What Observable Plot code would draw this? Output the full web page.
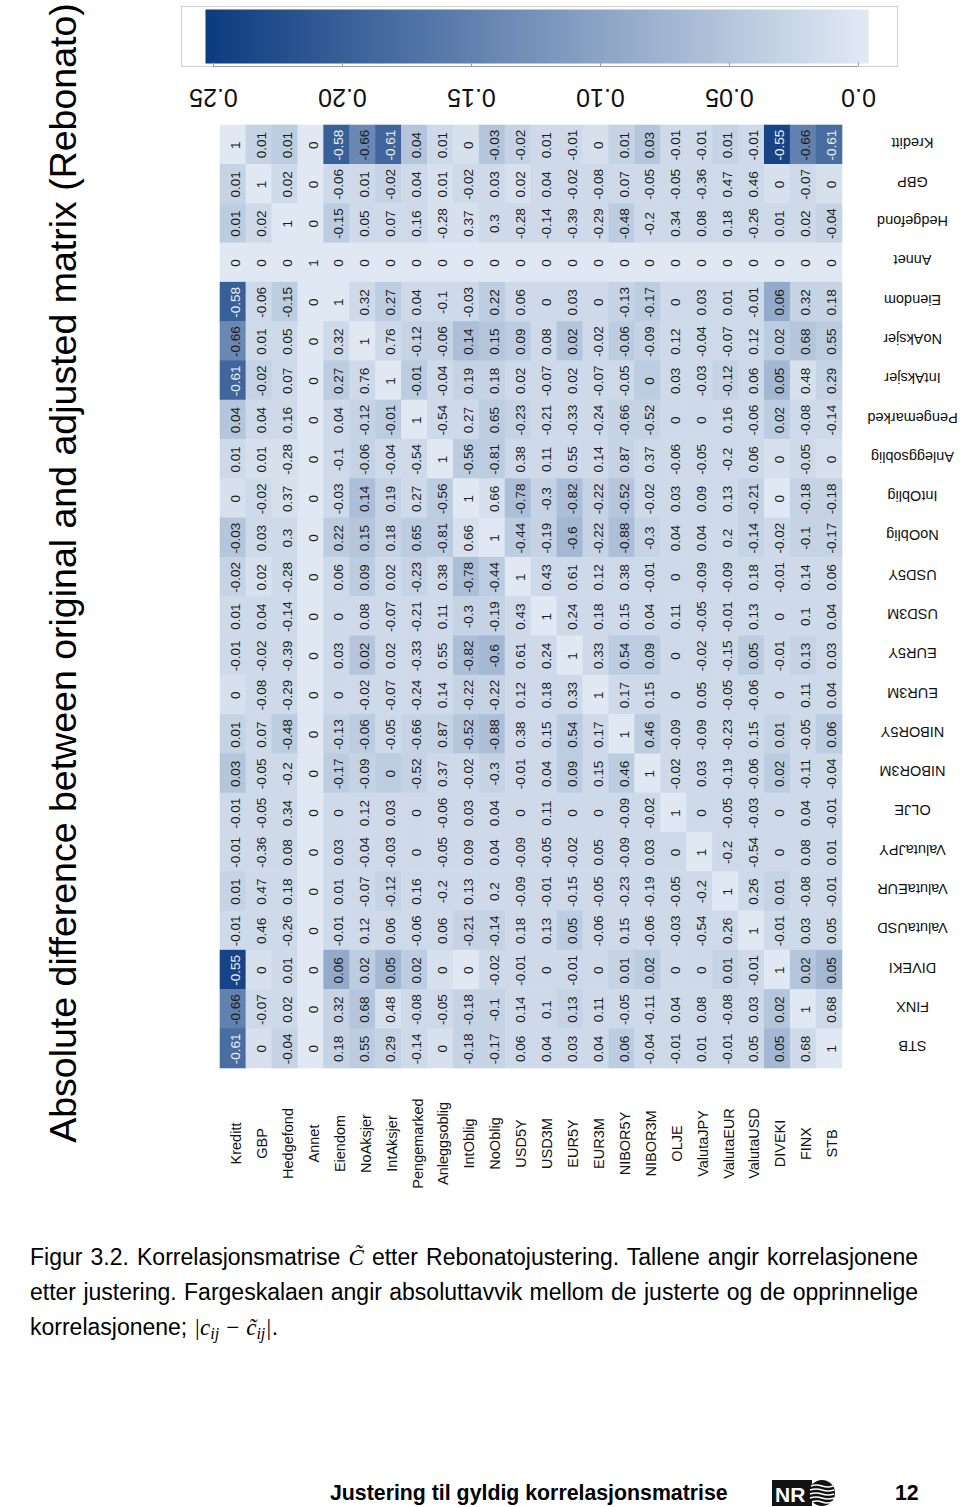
<!DOCTYPE html>
<html>
<head>
<meta charset="utf-8">
<script src="https://cdn.jsdelivr.net/npm/d3@7"></script>
<script src="https://cdn.jsdelivr.net/npm/@observablehq/plot@0.6"></script>
<style>
  body { margin: 0; background: #fff; }
  #page { position: relative; width: 960px; height: 1507px; overflow: hidden;
          font-family: "Liberation Sans", Arial, Helvetica, sans-serif; color: #000; background: #fff; }
  .abs { position: absolute; }
  #title { left: 64px; top: 573px; transform: translate(-50%, -50%) rotate(-90deg);
           font-size: 37.5px; line-height: 1; white-space: nowrap; }
  #caption { left: 30px; top: 1240px; width: 888px; font-size: 23px; line-height: 35px; }
  #caption .ln { white-space: nowrap; }
  #caption .j { text-align: justify; text-align-last: justify; }
  .m { font-family: "Liberation Serif", "DejaVu Serif", serif; font-style: italic; }
  .m sub { font-size: 0.7em; vertical-align: -0.25em; }
  #footer { left: 330px; top: 1479px; font-size: 21.3px; font-weight: bold; line-height: 28px; white-space: nowrap; }
  #pagenum { left: 895px; top: 1479px; font-size: 21.3px; font-weight: bold; line-height: 28px; }
</style>
</head>
<body>
<div id="page">
  <div id="bar" class="abs" style="left:0;top:0"></div>
  <div id="heat" class="abs" style="left:0;top:120px"></div>
  <div id="title" class="abs">Absolute difference between original and adjusted matrix (Rebonato)</div>
  <div id="caption" class="abs">
    <div class="ln j">Figur 3.2. Korrelasjonsmatrise <span class="m">C&#771;</span> etter Rebonatojustering. Tallene angir korrelasjonene</div>
    <div class="ln j">etter justering. Fargeskalaen angir absoluttavvik mellom de justerte og de opprinnelige</div>
    <div class="ln">korrelasjonene; <span class="m">|c<sub>ij</sub> &#8722; c&#771;<sub>ij</sub>|</span>.</div>
  </div>
  <div id="footer" class="abs">Justering til gyldig korrelasjonsmatrise</div>
  <svg class="abs" style="left:772px;top:1479px" width="64" height="28" viewBox="0 0 64 28">
    <rect x="0" y="1" width="40" height="26" fill="#111"/>
    <text x="3" y="22.5" font-family="Liberation Sans, Arial, sans-serif" font-weight="bold" font-size="21" fill="#fff">NR</text>
    <circle cx="50" cy="14" r="13" fill="#111"/>
    <g stroke="#fff" stroke-width="1.6" fill="none">
      <path d="M39 7 q5 -2 11 0 t11 0"/>
      <path d="M38 11 q6 -2 12 0 t12 0"/>
      <path d="M38 15 q6 -2 12 0 t12 0"/>
      <path d="M38 19 q6 -2 12 0 t12 0"/>
      <path d="M40 23 q5 -2 10 0 t10 0"/>
    </g>
  </svg>
  <div id="pagenum" class="abs">12</div>
</div>
<script>
// ---- data ----
const names = ["Kreditt","GBP","Hedgefond","Annet","Eiendom","NoAksjer","IntAksjer","Pengemarked",
  "Anleggsoblig","IntOblig","NoOblig","USD5Y","USD3M","EUR5Y","EUR3M","NIBOR5Y","NIBOR3M","OLJE",
  "ValutaJPY","ValutaEUR","ValutaUSD","DIVEKI","FINX","STB"];

// adjusted correlations (rows top→bottom, columns left→right)
const values = [
  [1,0.01,0.01,0,-0.58,-0.66,-0.61,0.04,0.01,0,-0.03,-0.02,0.01,-0.01,0,0.01,0.03,-0.01,-0.01,0.01,-0.01,-0.55,-0.66,-0.61],
  [0.01,1,0.02,0,-0.06,0.01,-0.02,0.04,0.01,-0.02,0.03,0.02,0.04,-0.02,-0.08,0.07,-0.05,-0.05,-0.36,0.47,0.46,0,-0.07,0],
  [0.01,0.02,1,0,-0.15,0.05,0.07,0.16,-0.28,0.37,0.3,-0.28,-0.14,-0.39,-0.29,-0.48,-0.2,0.34,0.08,0.18,-0.26,0.01,0.02,-0.04],
  [0,0,0,1,0,0,0,0,0,0,0,0,0,0,0,0,0,0,0,0,0,0,0,0],
  [-0.58,-0.06,-0.15,0,1,0.32,0.27,0.04,-0.1,-0.03,0.22,0.06,0,0.03,0,-0.13,-0.17,0,0.03,0.01,-0.01,0.06,0.32,0.18],
  [-0.66,0.01,0.05,0,0.32,1,0.76,-0.12,-0.06,0.14,0.15,0.09,0.08,0.02,-0.02,-0.06,-0.09,0.12,-0.04,-0.07,0.12,0.02,0.68,0.55],
  [-0.61,-0.02,0.07,0,0.27,0.76,1,-0.01,-0.04,0.19,0.18,0.02,-0.07,0.02,-0.07,-0.05,0,0.03,-0.03,-0.12,0.06,0.05,0.48,0.29],
  [0.04,0.04,0.16,0,0.04,-0.12,-0.01,1,-0.54,0.27,0.65,-0.23,-0.21,-0.33,-0.24,-0.66,-0.52,0,0,0.16,-0.06,0.02,-0.08,-0.14],
  [0.01,0.01,-0.28,0,-0.1,-0.06,-0.04,-0.54,1,-0.56,-0.81,0.38,0.11,0.55,0.14,0.87,0.37,-0.06,-0.05,-0.2,0.06,0,-0.05,0],
  [0,-0.02,0.37,0,-0.03,0.14,0.19,0.27,-0.56,1,0.66,-0.78,-0.3,-0.82,-0.22,-0.52,-0.02,0.03,0.09,0.13,-0.21,0,-0.18,-0.18],
  [-0.03,0.03,0.3,0,0.22,0.15,0.18,0.65,-0.81,0.66,1,-0.44,-0.19,-0.6,-0.22,-0.88,-0.3,0.04,0.04,0.2,-0.14,-0.02,-0.1,-0.17],
  [-0.02,0.02,-0.28,0,0.06,0.09,0.02,-0.23,0.38,-0.78,-0.44,1,0.43,0.61,0.12,0.38,-0.01,0,-0.09,-0.09,0.18,-0.01,0.14,0.06],
  [0.01,0.04,-0.14,0,0,0.08,-0.07,-0.21,0.11,-0.3,-0.19,0.43,1,0.24,0.18,0.15,0.04,0.11,-0.05,-0.01,0.13,0,0.1,0.04],
  [-0.01,-0.02,-0.39,0,0.03,0.02,0.02,-0.33,0.55,-0.82,-0.6,0.61,0.24,1,0.33,0.54,0.09,0,-0.02,-0.15,0.05,-0.01,0.13,0.03],
  [0,-0.08,-0.29,0,0,-0.02,-0.07,-0.24,0.14,-0.22,-0.22,0.12,0.18,0.33,1,0.17,0.15,0,0.05,-0.05,-0.06,0,0.11,0.04],
  [0.01,0.07,-0.48,0,-0.13,-0.06,-0.05,-0.66,0.87,-0.52,-0.88,0.38,0.15,0.54,0.17,1,0.46,-0.09,-0.09,-0.23,0.15,0.01,-0.05,0.06],
  [0.03,-0.05,-0.2,0,-0.17,-0.09,0,-0.52,0.37,-0.02,-0.3,-0.01,0.04,0.09,0.15,0.46,1,-0.02,0.03,-0.19,-0.06,0.02,-0.11,-0.04],
  [-0.01,-0.05,0.34,0,0,0.12,0.03,0,-0.06,0.03,0.04,0,0.11,0,0,-0.09,-0.02,1,0,-0.05,-0.03,0,0.04,-0.01],
  [-0.01,-0.36,0.08,0,0.03,-0.04,-0.03,0,-0.05,0.09,0.04,-0.09,-0.05,-0.02,0.05,-0.09,0.03,0,1,-0.2,-0.54,0,0.08,0.01],
  [0.01,0.47,0.18,0,0.01,-0.07,-0.12,0.16,-0.2,0.13,0.2,-0.09,-0.01,-0.15,-0.05,-0.23,-0.19,-0.05,-0.2,1,0.26,0.01,-0.08,-0.01],
  [-0.01,0.46,-0.26,0,-0.01,0.12,0.06,-0.06,0.06,-0.21,-0.14,0.18,0.13,0.05,-0.06,0.15,-0.06,-0.03,-0.54,0.26,1,-0.01,0.03,0.05],
  [-0.55,0,0.01,0,0.06,0.02,0.05,0.02,0,0,-0.02,-0.01,0,-0.01,0,0.01,0.02,0,0,0.01,-0.01,1,0.02,0.05],
  [-0.66,-0.07,0.02,0,0.32,0.68,0.48,-0.08,-0.05,-0.18,-0.1,0.14,0.1,0.13,0.11,-0.05,-0.11,0.04,0.08,-0.08,0.03,0.02,1,0.68],
  [-0.61,0,-0.04,0,0.18,0.55,0.29,-0.14,0,-0.18,-0.17,0.06,0.04,0.03,0.04,0.06,-0.04,-0.01,0.01,-0.01,0.05,0.05,0.68,1]
];

// absolute difference |c - c~| (colour)
const diffs = [
  [0,.03,.04,0,.20,.14,.19,.05,.02,.01,.05,.03,.02,.02,.01,.03,.05,.02,.02,.03,.02,.24,.15,.18],
  [.03,0,.02,0,.02,.02,.03,.02,.01,.02,.02,.01,.02,.02,.02,.02,.02,.02,.02,.02,.02,.01,.02,.01],
  [.04,.02,0,0,.04,.02,.02,.02,.01,.01,.02,.02,.02,.02,.02,.04,.02,.02,.02,.02,.02,.02,.02,.03],
  [0,0,0,0,0,0,0,0,0,0,0,0,0,0,0,0,0,0,0,0,0,0,0,0],
  [.20,.02,.04,0,0,.02,.04,.02,.02,.02,.04,.02,.02,.02,.02,.03,.04,.02,.02,.02,.02,.09,.03,.03],
  [.14,.02,.02,0,.02,0,.02,.03,.03,.06,.05,.04,.02,.05,.02,.04,.03,.02,.02,.02,.02,.04,.05,.04],
  [.19,.03,.02,0,.04,.02,0,.04,.02,.03,.03,.02,.02,.02,.02,.02,.04,.02,.02,.03,.02,.07,.01,.03],
  [.05,.02,.02,0,.02,.03,.04,0,.02,.02,.04,.03,.02,.02,.02,.03,.03,.02,.02,.02,.02,.04,.02,.02],
  [.02,.01,.01,0,.02,.03,.02,.02,0,.04,.04,.02,.02,.02,.02,.03,.02,.02,.02,.02,.02,.01,.02,.01],
  [.01,.02,.01,0,.02,.06,.03,.02,.04,0,.01,.06,.03,.06,.03,.05,.02,.02,.02,.02,.03,0,.03,.03],
  [.05,.02,.02,0,.04,.05,.03,.04,.04,.01,0,.04,.03,.07,.03,.06,.03,.02,.02,.02,.03,.02,.03,.03],
  [.03,.01,.02,0,.02,.04,.02,.03,.02,.06,.04,0,.02,.02,.02,.02,.02,.02,.02,.02,.02,.02,.02,.02],
  [.02,.02,.02,0,.02,.02,.02,.02,.02,.03,.03,.02,0,.02,.02,.02,.02,.02,.02,.02,.02,.02,.02,.02],
  [.02,.02,.02,0,.02,.05,.02,.02,.02,.06,.07,.02,.02,0,.02,.04,.04,.02,.02,.02,.04,.02,.03,.02],
  [.01,.02,.02,0,.02,.02,.02,.02,.02,.03,.03,.02,.02,.02,0,.02,.02,.02,.02,.02,.02,.02,.02,.02],
  [.03,.02,.04,0,.03,.04,.02,.03,.03,.05,.06,.02,.02,.04,.02,0,.04,.02,.02,.02,.02,.03,.02,.04],
  [.05,.02,.02,0,.04,.03,.04,.03,.02,.02,.03,.02,.02,.04,.02,.04,0,.02,.02,.02,.02,.04,.02,.02],
  [.02,.02,.02,0,.02,.02,.02,.02,.02,.02,.02,.02,.02,.02,.02,.02,.02,0,.02,.02,.02,.02,.02,.02],
  [.02,.02,.02,0,.02,.02,.02,.02,.02,.02,.02,.02,.02,.02,.02,.02,.02,.02,0,.02,.02,.02,.02,.02],
  [.03,.02,.02,0,.02,.02,.03,.02,.02,.02,.02,.02,.02,.02,.02,.02,.02,.02,.02,0,.02,.03,.02,.02],
  [.02,.02,.02,0,.02,.02,.02,.02,.02,.03,.03,.02,.02,.04,.02,.02,.02,.02,.02,.02,0,.02,.02,.02],
  [.24,.01,.02,0,.09,.04,.07,.04,.01,0,.02,.02,.02,.02,.02,.03,.04,.02,.02,.03,.02,0,.05,.07],
  [.15,.02,.02,0,.03,.05,.01,.02,.02,.03,.03,.02,.02,.03,.02,.02,.02,.02,.02,.02,.02,.05,0,.02],
  [.18,.01,.03,0,.03,.04,.03,.02,.01,.03,.03,.02,.02,.02,.02,.04,.02,.02,.02,.02,.02,.07,.02,0]
];

const colorTicks = [0, 0.05, 0.10, 0.15, 0.20, 0.25];
const colorTickLabels = ["0.0", "0.05", "0.10", "0.15", "0.20", "0.25"];

// ---- build ----
const cells = [];
names.forEach((rn, j) => names.forEach((cn, k) =>
  cells.push({col: cn, row: rn, value: values[j][k], diff: diffs[j][k]})));

const colorOpts = {type: "linear", domain: [0, 0.253], range: ["#dfe8f3", "#0b3b80"], interpolate: "rgb", clamp: true};
const font = "Liberation Sans, Arial, Helvetica, sans-serif";

const heat = Plot.plot({
  width: 960, height: 1095,
  marginLeft: 220, marginRight: 118, marginTop: 5, marginBottom: 147,
  style: {fontFamily: font, background: "white"},
  x: {domain: names, padding: 0, round: false, axis: null},
  y: {domain: names, padding: 0, round: false, axis: null},
  color: colorOpts,
  marks: [
    Plot.cell(cells, {x: "col", y: "row", fill: "diff", inset: -0.3}),
    Plot.text(cells, {x: "col", y: "row", text: d => String(d.value), rotate: -90, fontSize: 13.5, dx: 2,
      fill: d => d.diff >= 0.17 ? "#f0f0f0" : "#1a1a1a"}),
    Plot.text(names, {x: d => d, text: d => d, frameAnchor: "bottom", dy: 75, dx: 3, rotate: -90,
      textAnchor: "middle", lineAnchor: "middle", fontSize: 14.5, fill: "#111"}),
    Plot.text(names, {y: d => d, text: d => d, frameAnchor: "right", dx: 70, dy: -3, rotate: 180,
      textAnchor: "middle", lineAnchor: "middle", fontSize: 14.5, fill: "#111"})
  ]
});
document.getElementById("heat").appendChild(heat);

const bar = Plot.plot({
  width: 960, height: 120,
  marginLeft: 181, marginRight: 63, marginTop: 6, marginBottom: 54,
  style: {fontFamily: font, background: "white"},
  x: {domain: [0.2624, -0.0151], axis: null},
  y: {domain: [0, 1], axis: null},
  color: colorOpts,
  marks: [
    Plot.raster({x1: -0.0039, x2: 0.2531, y1: 0.05, y2: 0.95, fill: (x, y) => x, pixelSize: 1}),
    Plot.frame({stroke: "#cfcfcf"}),
    Plot.ruleY([0], {x1: 0.25, x2: 0, stroke: "#9a9a9a"}),
    Plot.ruleX(colorTicks, {y1: 0, y2: 0.06, stroke: "#9a9a9a"}),
    Plot.text(colorTicks, {x: d => d, text: (d, i) => colorTickLabels[i], frameAnchor: "bottom", dy: 30,
      rotate: 180, textAnchor: "middle", lineAnchor: "middle", fontSize: 25, fill: "#111"})
  ]
});
document.getElementById("bar").appendChild(bar);
</script>
</body>
</html>
